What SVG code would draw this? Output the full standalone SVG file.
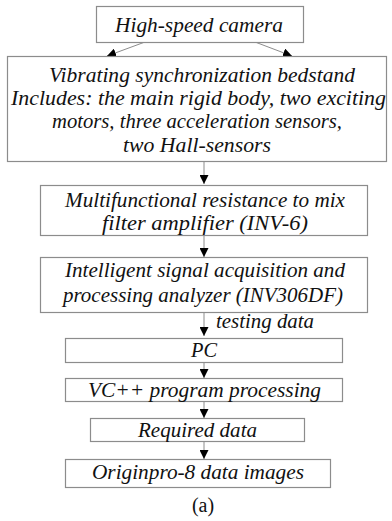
<svg xmlns="http://www.w3.org/2000/svg" width="392" height="521" viewBox="0 0 392 521">
<defs>
<style>
.box{fill:#fff;stroke:#8c8c8c;stroke-width:1.2}
.t{font-family:"Liberation Serif","Times New Roman",serif;font-style:italic;font-size:21px;fill:#111;text-anchor:middle}
.c{stroke:#8c8c8c;stroke-width:1;fill:none}
</style>
<marker id="ah" viewBox="0 0 10 10" refX="10" refY="5" markerWidth="9" markerHeight="9" markerUnits="userSpaceOnUse" orient="auto">
<path d="M0,0 L10,5 L0,10 z" fill="#000"/>
</marker>
</defs>
<rect width="392" height="521" fill="#fff"/>
<g id="connectors">
<line class="c" x1="145" y1="42" x2="107" y2="56" marker-end="url(#ah)"/>
<line class="c" x1="255" y1="42" x2="292" y2="56" marker-end="url(#ah)"/>
<line class="c" x1="204" y1="162" x2="204" y2="184" marker-end="url(#ah)"/>
<line class="c" x1="204" y1="236" x2="204" y2="257" marker-end="url(#ah)"/>
<line class="c" x1="204" y1="313" x2="204" y2="336" marker-end="url(#ah)"/>
<line class="c" x1="204" y1="363" x2="204" y2="378" marker-end="url(#ah)"/>
<line class="c" x1="204" y1="402" x2="204" y2="418" marker-end="url(#ah)"/>
<line class="c" x1="204" y1="442" x2="204" y2="459" marker-end="url(#ah)"/>
</g>
<g id="camera">
<rect class="box" x="96.5" y="6.5" width="207" height="36"/>
<text class="t" x="199" y="32" textLength="168" lengthAdjust="spacingAndGlyphs">High-speed camera</text>
</g>
<g id="bedstand">
<rect class="box" x="7.5" y="56.5" width="379" height="105"/>
<text class="t" x="202" y="82" textLength="306" lengthAdjust="spacingAndGlyphs">Vibrating synchronization bedstand</text>
<text class="t" x="198.5" y="105" textLength="375" lengthAdjust="spacingAndGlyphs">Includes: the main rigid body, two exciting</text>
<text class="t" x="197" y="128" textLength="290" lengthAdjust="spacingAndGlyphs">motors, three acceleration sensors,</text>
<text class="t" x="197" y="152" textLength="148" lengthAdjust="spacingAndGlyphs">two Hall-sensors</text>
</g>
<g id="amplifier">
<rect class="box" x="40.5" y="185.5" width="327" height="50"/>
<text class="t" x="205" y="207" textLength="280" lengthAdjust="spacingAndGlyphs">Multifunctional resistance to mix</text>
<text class="t" x="205" y="230" textLength="206" lengthAdjust="spacingAndGlyphs">filter amplifier (INV-6)</text>
</g>
<g id="analyzer">
<rect class="box" x="40.5" y="257.5" width="327" height="55"/>
<text class="t" x="205" y="277" textLength="280" lengthAdjust="spacingAndGlyphs">Intelligent signal acquisition and</text>
<text class="t" x="203" y="302" textLength="280" lengthAdjust="spacingAndGlyphs">processing analyzer (INV306DF)</text>
</g>
<text class="t" x="265" y="328" textLength="98" lengthAdjust="spacingAndGlyphs">testing data</text>
<g id="pc">
<rect class="box" x="65.5" y="338.5" width="277" height="24"/>
<text class="t" x="204" y="357" textLength="26" lengthAdjust="spacingAndGlyphs">PC</text>
</g>
<g id="vc">
<rect class="box" x="65.5" y="378.5" width="277" height="23"/>
<text class="t" x="204.5" y="397" textLength="233" lengthAdjust="spacingAndGlyphs">VC++ program processing</text>
</g>
<g id="required">
<rect class="box" x="90.5" y="418.5" width="214" height="23"/>
<text class="t" x="197.5" y="437" textLength="119" lengthAdjust="spacingAndGlyphs">Required data</text>
</g>
<g id="origin">
<rect class="box" x="65.5" y="459.5" width="265" height="28"/>
<text class="t" x="198" y="479" textLength="212" lengthAdjust="spacingAndGlyphs">Originpro-8 data images</text>
</g>
<text x="203" y="512" font-family="'Liberation Serif','Times New Roman',serif" font-size="20" text-anchor="middle" fill="#111">(a)</text>
</svg>
